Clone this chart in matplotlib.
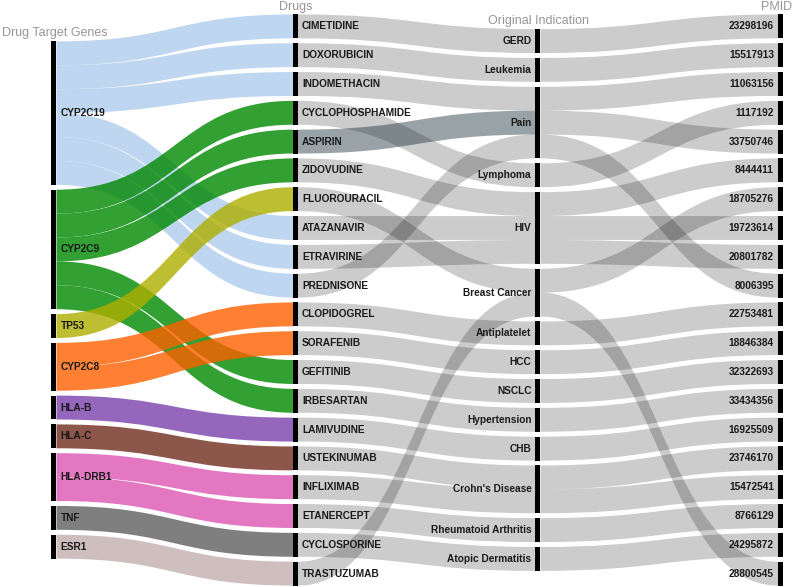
import numpy as np
import matplotlib.pyplot as plt
from matplotlib.colors import to_rgb
from matplotlib.path import Path
from matplotlib.patches import PathPatch, Rectangle

plt.rcParams['font.family'] = ['Liberation Sans', 'DejaVu Sans']

# data: one unit per link, nodes in top-to-bottom order

genes = ["CYP2C19", "CYP2C9", "TP53", "CYP2C8", "HLA-B", "HLA-C",
         "HLA-DRB1", "TNF", "ESR1"]
drugs = ["CIMETIDINE", "DOXORUBICIN", "INDOMETHACIN", "CYCLOPHOSPHAMIDE",
         "ASPIRIN", "ZIDOVUDINE", "FLUOROURACIL", "ATAZANAVIR", "ETRAVIRINE",
         "PREDNISONE", "CLOPIDOGREL", "SORAFENIB", "GEFITINIB", "IRBESARTAN",
         "LAMIVUDINE", "USTEKINUMAB", "INFLIXIMAB", "ETANERCEPT",
         "CYCLOSPORINE", "TRASTUZUMAB"]
indications = ["GERD", "Leukemia", "Pain", "Lymphoma", "HIV", "Breast Cancer",
               "Antiplatelet", "HCC", "NSCLC", "Hypertension", "CHB",
               "Crohn's Disease", "Rheumatoid Arthritis", "Atopic Dermatitis"]
pmids = ["23298196", "15517913", "11063156", "1117192", "33750746",
         "8444411", "18705276", "19723614", "20801782", "8006395",
         "22753481", "18846384", "32322693", "33434356", "16925509",
         "23746170", "15472541", "8766129", "24295872", "28800545"]

gene_drug = [
    ("CYP2C19", "CIMETIDINE"), ("CYP2C19", "DOXORUBICIN"),
    ("CYP2C19", "INDOMETHACIN"), ("CYP2C19", "ATAZANAVIR"),
    ("CYP2C19", "ETRAVIRINE"), ("CYP2C19", "PREDNISONE"),
    ("CYP2C9", "CYCLOPHOSPHAMIDE"), ("CYP2C9", "ASPIRIN"),
    ("CYP2C9", "ZIDOVUDINE"), ("CYP2C9", "GEFITINIB"),
    ("CYP2C9", "IRBESARTAN"),
    ("TP53", "FLUOROURACIL"),
    ("CYP2C8", "CLOPIDOGREL"), ("CYP2C8", "SORAFENIB"),
    ("HLA-B", "LAMIVUDINE"),
    ("HLA-C", "USTEKINUMAB"),
    ("HLA-DRB1", "INFLIXIMAB"), ("HLA-DRB1", "ETANERCEPT"),
    ("TNF", "CYCLOSPORINE"),
    ("ESR1", "TRASTUZUMAB"),
]
drug_indication = [
    ("CIMETIDINE", "GERD"), ("DOXORUBICIN", "Leukemia"),
    ("INDOMETHACIN", "Pain"), ("CYCLOPHOSPHAMIDE", "Lymphoma"),
    ("ASPIRIN", "Pain"), ("ZIDOVUDINE", "HIV"),
    ("FLUOROURACIL", "Breast Cancer"), ("ATAZANAVIR", "HIV"),
    ("ETRAVIRINE", "HIV"), ("PREDNISONE", "Pain"),
    ("CLOPIDOGREL", "Antiplatelet"), ("SORAFENIB", "HCC"),
    ("GEFITINIB", "NSCLC"), ("IRBESARTAN", "Hypertension"),
    ("LAMIVUDINE", "CHB"), ("USTEKINUMAB", "Crohn's Disease"),
    ("INFLIXIMAB", "Crohn's Disease"), ("ETANERCEPT", "Rheumatoid Arthritis"),
    ("CYCLOSPORINE", "Atopic Dermatitis"), ("TRASTUZUMAB", "Breast Cancer"),
]
indication_pmid = [
    ("GERD", "23298196"), ("Leukemia", "15517913"), ("Pain", "11063156"),
    ("Lymphoma", "1117192"), ("Pain", "33750746"), ("HIV", "8444411"),
    ("Breast Cancer", "18705276"), ("HIV", "19723614"), ("HIV", "20801782"),
    ("Pain", "8006395"), ("Antiplatelet", "22753481"), ("HCC", "18846384"),
    ("NSCLC", "32322693"), ("Hypertension", "33434356"),
    ("CHB", "16925509"), ("Crohn's Disease", "23746170"),
    ("Crohn's Disease", "15472541"), ("Rheumatoid Arthritis", "8766129"),
    ("Atopic Dermatitis", "24295872"), ("Breast Cancer", "28800545"),
]
headers = ["Drug Target Genes", "Drugs", "Original Indication", "PMID"]

# how each gene's links look over white
gene_colors = {"CYP2C19": "#bed6f0", "CYP2C9": "#2ca02c", "TP53": "#bebe23",
               "CYP2C8": "#ff7f0e", "HLA-B": "#9467bd", "HLA-C": "#8c564b",
               "HLA-DRB1": "#e377c2", "TNF": "#7f7f7f", "ESR1": "#d0bebe"}
GENE_ALPHA = 0.8
grey_link = (0, 0, 0, 0.2)
hover_link = (30/255, 50/255, 60/255, 0.45)

# layout (pixels)
W, H = 797, 587
UNIT = 23.9
PAD = 4.9
MID_Y = 300
NODE_W = 5
COL_X = [51.5, 293, 535.5, 778]
HEAD_XY = [(54.5, 33), (296, 7), (538.5, 21), (776.5, 7)]


def see_through(color, a):
    """base colour that shows as `color` on white at alpha a"""
    c = np.array(to_rgb(color))
    base = np.clip(1 - (1 - c) / a, 0, 1)
    return (*base, a)


def node_size(names, links_in, links_out):
    out = {}
    for n in names:
        a = sum(1 for s, t in links_in if t == n)
        b = sum(1 for s, t in links_out if s == n)
        out[n] = max(a, b)
    return out


def place(names, size):
    total = sum(size.values()) * UNIT + (len(names) - 1) * PAD
    y = MID_Y - total / 2
    pos = {}
    for n in names:
        h = size[n] * UNIT
        pos[n] = (y, y + h)
        y += h + PAD
    return pos


def mid(p):
    return (p[0] + p[1]) / 2


def draw_links(ax, links, src_pos, tgt_pos, x0, x1, colors):
    src_y, tgt_y = {}, {}
    for s in src_pos:
        outs = sorted([l for l in links if l[0] == s],
                      key=lambda l: mid(tgt_pos[l[1]]))
        y = src_pos[s][0]
        for l in outs:
            src_y[l] = y
            y += UNIT
    for t in tgt_pos:
        ins = sorted([l for l in links if l[1] == t],
                     key=lambda l: mid(src_pos[l[0]]))
        y = tgt_pos[t][0]
        for l in ins:
            tgt_y[l] = y
            y += UNIT
    xm = (x0 + x1) / 2
    for l, c in zip(links, colors):
        ys, yt = src_y[l], tgt_y[l]
        verts = [(x0, ys), (xm, ys), (xm, yt), (x1, yt),
                 (x1, yt + UNIT), (xm, yt + UNIT), (xm, ys + UNIT),
                 (x0, ys + UNIT), (x0, ys)]
        codes = [Path.MOVETO, Path.CURVE4, Path.CURVE4, Path.CURVE4,
                 Path.LINETO, Path.CURVE4, Path.CURVE4, Path.CURVE4,
                 Path.CLOSEPOLY]
        ax.add_patch(PathPatch(Path(verts, codes), facecolor=c,
                               edgecolor='none', lw=0, zorder=1))


# %%

cols = [genes, drugs, indications, pmids]
stages = [gene_drug, drug_indication, indication_pmid]
sizes = [node_size(genes, [], gene_drug),
         node_size(drugs, gene_drug, drug_indication),
         node_size(indications, drug_indication, indication_pmid),
         node_size(pmids, indication_pmid, [])]
positions = [place(c, s) for c, s in zip(cols, sizes)]

fig = plt.figure(figsize=(W / 100, H / 100), dpi=100)
ax = fig.add_axes([0, 0, 1, 1])
ax.set_xlim(0, W)
ax.set_ylim(H, 0)
ax.axis('off')

link_colors = [
    [see_through(gene_colors[g], GENE_ALPHA) for g, d in gene_drug],
    [hover_link if d == "ASPIRIN" else grey_link for d, i in drug_indication],
    [grey_link for _ in indication_pmid],
]

for k in range(3):
    draw_links(ax, stages[k], positions[k], positions[k + 1],
               COL_X[k] + NODE_W, COL_X[k + 1], link_colors[k])

for k, (names, pos) in enumerate(zip(cols, positions)):
    for n in names:
        y0, y1 = pos[n]
        ax.add_patch(Rectangle((COL_X[k], y0), NODE_W, y1 - y0,
                               facecolor='black', edgecolor='none', zorder=3))
        if k < 2:
            ax.text(COL_X[k] + NODE_W + 4, mid(pos[n]), n, ha='left',
                    va='center', fontsize=7.3, fontweight='bold',
                    color='#1a1a1a', zorder=4)
        else:
            ax.text(COL_X[k] - 4, mid(pos[n]), n, ha='right',
                    va='center', fontsize=7.3, fontweight='bold',
                    color='#1a1a1a', zorder=4)

for text, (x, y) in zip(headers, HEAD_XY):
    ax.text(x, y, text, ha='center', va='center', fontsize=9,
            color='#969696', zorder=4)

fig.savefig("out.png", dpi=100)
